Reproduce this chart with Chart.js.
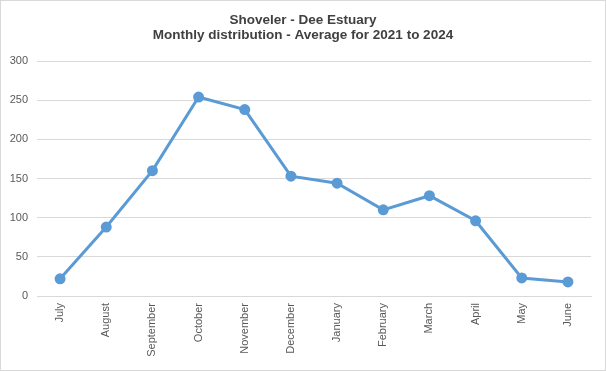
<!DOCTYPE html>
<html>
<head>
<meta charset="utf-8">
<script src="https://cdn.jsdelivr.net/npm/chart.js@4"></script>
<style>
  html, body { margin: 0; padding: 0; background: #fff; }
  #wrap { width: 606px; height: 371px; }
</style>
</head>
<body>
<div id="wrap"><canvas id="lineChart" width="606" height="371"></canvas></div>
<script>
const months = ['July', 'August', 'September', 'October', 'November', 'December',
                'January', 'February', 'March', 'April', 'May', 'June'];
const shoveler = [22, 88, 160, 254, 238, 153, 144, 110, 128, 96, 23, 18];
const yTicks = [0, 50, 100, 150, 200, 250, 300];
const titleLines = ['Shoveler - Dee Estuary', 'Monthly distribution - Average for 2021 to 2024'];

// light grey frame round the whole chart, plus the two line title centred on the canvas
const frame = {
    id: 'frame',
    afterDraw(chart) {
        const ctx = chart.ctx;
        ctx.save();
        ctx.strokeStyle = '#d9d9d9';
        ctx.lineWidth = 1;
        ctx.strokeRect(0.5, 0.5, chart.width - 1, chart.height - 1);

        ctx.fillStyle = '#404040';
        ctx.font = "bold 13.5px 'Liberation Sans'";
        ctx.textAlign = 'center';
        ctx.textBaseline = 'alphabetic';
        titleLines.forEach((t, i) => {
            ctx.fillText(t, chart.width / 2, 24 + i * 14.5);
        });
        ctx.restore();
    }
};

const ctx = document.getElementById('lineChart');
const lineChart = new Chart(ctx, {
    type: 'line',
    data: {
        labels: months,
        datasets: [{
            label: 'Shoveler',
            data: shoveler,
            borderColor: '#5b9bd5',
            backgroundColor: '#5b9bd5',
            borderWidth: 3,
            pointRadius: 4,
            pointHoverRadius: 4,
            tension: 0
        }]
    },
    options: {
        responsive: false,
        animation: false,
        layout: { padding: { top: 61, right: 15, bottom: 0, left: 0 } },
        scales: {
            x: {
                offset: true,
                grid: { display: false, drawTicks: false },
                border: { display: true, color: '#d9d9d9', width: 1 },
                ticks: {
                    color: '#595959',
                    font: { family: 'Liberation Sans', size: 11 },
                    minRotation: 90,
                    maxRotation: 90,
                    padding: 7,
                    autoSkip: false
                },
                afterFit(scale) { scale.height = 75; }
            },
            y: {
                min: 0,
                max: 300,
                afterBuildTicks(scale) { scale.ticks = yTicks.map(v => ({ value: v })); },
                grid: { color: '#d9d9d9', lineWidth: 1, drawTicks: false },
                border: { display: false },
                ticks: {
                    color: '#595959',
                    font: { family: 'Liberation Sans', size: 11 },
                    padding: 9
                },
                afterFit(scale) { scale.width = 37; }
            }
        },
        plugins: {
            legend: { display: false },
            tooltip: { enabled: false },
            title: { display: false }
        }
    },
    plugins: [frame]
});
</script>
</body>
</html>
